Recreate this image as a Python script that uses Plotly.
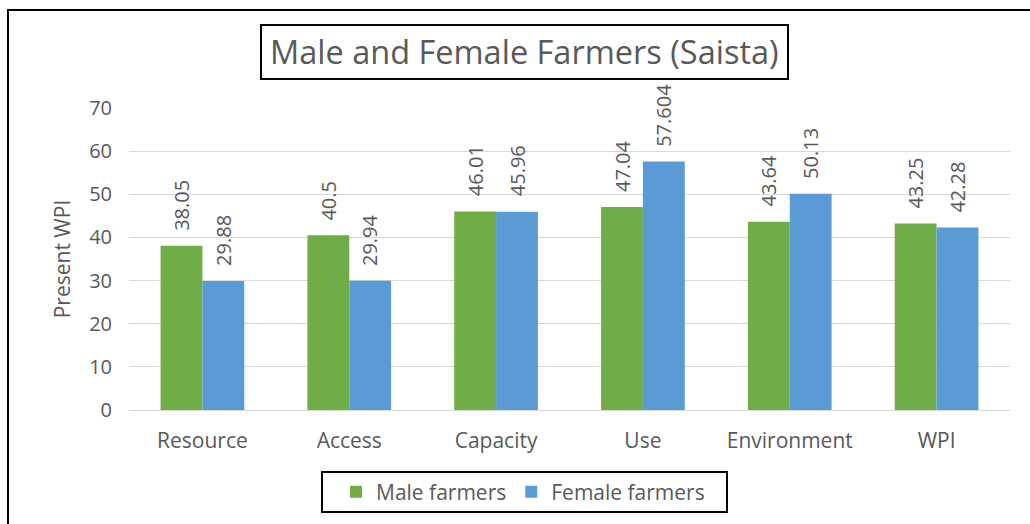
import plotly.graph_objects as go

categories = ["Resource", "Access", "Capacity", "Use", "Environment", "WPI"]
male = [38.05, 40.5, 46.01, 47.04, 43.64, 43.25]
female = [29.88, 29.94, 45.96, 57.604, 50.13, 42.28]
male_labels = ["38.05", "40.5", "46.01", "47.04", "43.64", "43.25"]
female_labels = ["29.88", "29.94", "45.96", "57.604", "50.13", "42.28"]

FONT = "Open Sans"
TXT = "#595959"
W, H = 1030, 524
L, R, T, B = 129, 20, 108, 114
pw, ph = W - L - R, H - T - B
BARGAP = 0.43
half_bar = pw / len(categories) * (1 - BARGAP) / 4

def px(x):
    return (x - L) / pw

def py(y):
    return (H - B - y) / ph

fig = go.Figure()
fig.add_trace(go.Bar(x=categories, y=male, name="Male farmers", marker_color="#70AD47",
                     marker_line_width=0))
fig.add_trace(go.Bar(x=categories, y=female, name="Female farmers", marker_color="#5B9BD5",
                     marker_line_width=0))

annotations = [
    dict(text="Male and Female Farmers (Saista)", xref="paper", yref="paper",
         x=px(524.5), y=py(52), xanchor="center", yanchor="middle", showarrow=False,
         font=dict(size=32.5, color=TXT, family=FONT)),
]
for vals, labs, sgn in ((male, male_labels, -1), (female, female_labels, 1)):
    for c, v, t in zip(categories, vals, labs):
        annotations.append(dict(text=t, x=c, y=v, xref="x", yref="y", showarrow=False,
                                textangle=-90, xanchor="center", yanchor="bottom",
                                xshift=sgn * half_bar, yshift=13,
                                font=dict(size=20, color=TXT, family=FONT)))

fig.update_layout(
    width=W, height=H,
    margin=dict(l=L, r=R, t=T, b=B, pad=0),
    paper_bgcolor="white", plot_bgcolor="white",
    barmode="group", bargap=BARGAP, bargroupgap=0,
    font=dict(family=FONT, color=TXT, size=20),
    showlegend=True,
    legend=dict(orientation="h", xanchor="center", x=px(523), yanchor="middle", y=py(492),
                font=dict(size=21, color=TXT, family=FONT), bgcolor="rgba(0,0,0,0)",
                borderwidth=0, itemsizing="constant"),
    xaxis=dict(showgrid=False, showline=False, ticks="", tickfont=dict(size=21, color=TXT),
               ticklabelstandoff=16),
    yaxis=dict(range=[0, 70], dtick=10, showgrid=True, gridcolor="#d9d9d9", gridwidth=1,
               zeroline=True, zerolinecolor="#d9d9d9", zerolinewidth=1, showline=False,
               ticks="", tickfont=dict(size=20, color=TXT), ticklabelstandoff=16,
               title=dict(text="Present WPI", font=dict(size=21, color=TXT), standoff=12)),
    shapes=[
        dict(type="rect", xref="paper", yref="paper", x0=px(8), x1=px(1033), y0=py(530), y1=py(10),
             line=dict(color="black", width=2), fillcolor="rgba(0,0,0,0)", layer="above"),
        dict(type="rect", xref="paper", yref="paper", x0=px(261), x1=px(788), y0=py(79), y1=py(25),
             line=dict(color="black", width=2), fillcolor="white", layer="above"),
        dict(type="rect", xref="paper", yref="paper", x0=px(322), x1=px(727), y0=py(512), y1=py(472),
             line=dict(color="black", width=2), fillcolor="rgba(0,0,0,0)", layer="above"),
    ],
    annotations=annotations,
)

fig.write_html("out.html")
